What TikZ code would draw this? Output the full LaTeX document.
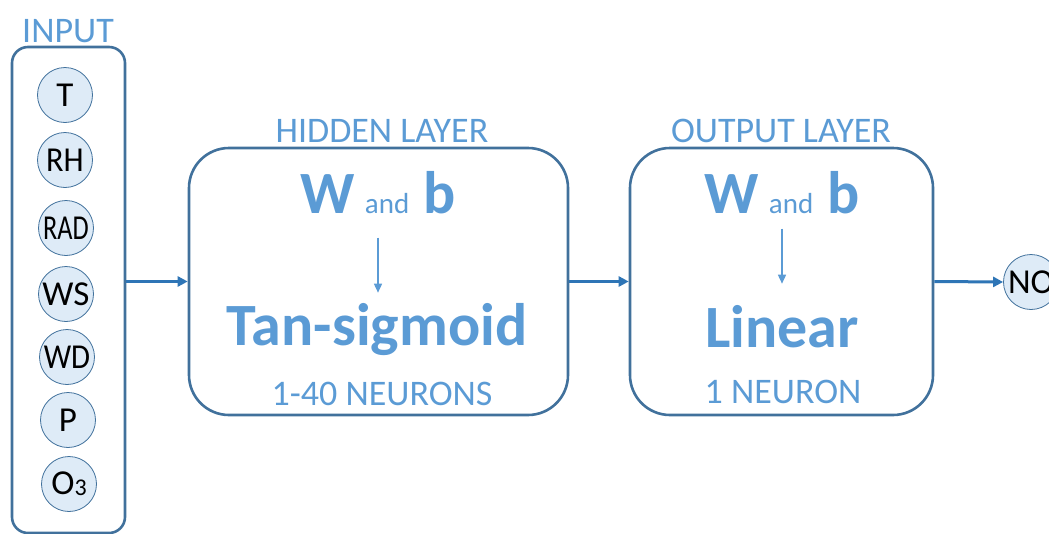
\documentclass[tikz,border=0pt]{standalone}
\usepackage{fontspec}
\setmainfont{Carlito}
\usetikzlibrary{arrows.meta}
\definecolor{txtblue}{HTML}{5B9BD5}
\definecolor{edgeblue}{HTML}{41719C}
\definecolor{arrblue}{HTML}{2E75B6}
\definecolor{circfill}{HTML}{DEEBF7}
\begin{document}
\begin{tikzpicture}[x=1pt,y=-1pt,
  layerbox/.style={draw=edgeblue, line width=2.6pt, rounded corners=40pt, inner sep=0pt},
  var/.style={circle, draw=edgeblue, line width=0.8pt, fill=circfill, minimum size=55pt, inner sep=0pt, font=\fontsize{35}{35}\selectfont, text=black},
  title/.style={text=txtblue, font=\fontsize{36}{40}\selectfont, anchor=base, inner sep=0pt},
  big/.style={text=txtblue, font=\fontsize{60}{62}\selectfont\bfseries, anchor=base, inner sep=0pt},
  flow/.style={draw=arrblue, line width=3pt, -{Triangle[length=10pt,width=10pt]}},
  inarrow/.style={draw=txtblue, line width=1.5pt, -{Triangle[length=9pt,width=8pt]}}]
\useasboundingbox (0,0) rectangle (1049,533);
\clip (0,0) rectangle (1049,533);

% input column
\node[title] (tin) at (68,42) {INPUT};
\node[draw=edgeblue, line width=2.6pt, rounded corners=16pt, minimum width=113pt, minimum height=486pt, inner sep=0pt] (input) at (68.5,290) {};
\node[var] (vT)   at (65,95)  {T};
\node[var] (vRH)  at (65,160) {\scalebox{0.92}[1]{RH}};
\node[var] (vRAD) at (66,228) {\scalebox{0.75}[1]{RAD}};
\node[var] (vWS)  at (66,294) {WS};
\node[var] (vWD)  at (67,357) {\scalebox{0.88}[1]{WD}};
\node[var] (vP)   at (68,420) {P};
\node[var] (vO)   at (69,484) {O\raisebox{-0.05ex}{\fontsize{24}{24}\selectfont 3}};

% hidden layer
\node[title] (thid) at (382,142) {HIDDEN LAYER};
\node[layerbox, minimum width=379pt, minimum height=267pt] (hidden) at (378.5,281.5) {};
\node[text=txtblue, anchor=base, inner sep=0pt, font=\fontsize{60}{62}\selectfont] (hwb) at (378,213)
  {\textbf{W}\hspace{10pt}{\fontsize{29}{30}\selectfont and}\hspace{14pt}\textbf{b}};
\node[big] (tan) at (377,345) {Tan-sigmoid};
\node[title] (hn) at (382,405) {1-40 NEURONS};
\draw[inarrow, shorten <=24pt, shorten >=10pt] (hwb.south) -- (tan.north -| hwb.south);

% output layer
\node[title] (tout) at (781,142) {OUTPUT LAYER};
\node[layerbox, minimum width=303pt, minimum height=267pt] (output) at (781.5,281.5) {};
\node[text=txtblue, anchor=base, inner sep=0pt, font=\fontsize{60}{62}\selectfont] (owb) at (782,213)
  {\textbf{W}\hspace{10pt}{\fontsize{29}{30}\selectfont and}\hspace{14pt}\textbf{b}};
\node[big] (lin) at (782,347) {Linear};
\node[title] (on) at (783,403) {1 NEURON};
\draw[inarrow, shorten <=15pt, shorten >=21pt] (owb.south) -- (lin.north -| owb.south);

% result
\node[var] (vNO) at (1031,282) {NO};

% connectors
\draw[flow] (hidden.west -| input.east) -- (hidden.west);
\draw[flow] (hidden.east) -- (output.west);
\draw[flow] (output.east) -- (vNO.west);
\end{tikzpicture}
\end{document}
